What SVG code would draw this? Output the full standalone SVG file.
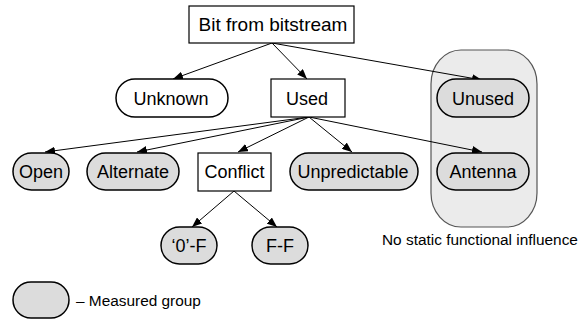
<svg xmlns="http://www.w3.org/2000/svg" width="580" height="320" viewBox="0 0 580 320">
<defs>
<style>
text{font-family:"Liberation Sans",Arial,sans-serif;fill:#000}
.lbl{font-size:18px;text-anchor:middle}
.big{font-size:19px}
.note{font-size:15.4px}
.box{fill:#fff;stroke:#000;stroke-width:1.2}
.pill{fill:#fff;stroke:#000;stroke-width:1.5}
.meas{fill:#dcdcdc;stroke:#000;stroke-width:1.5}
.grp{fill:#ebebeb;stroke:#555;stroke-width:1.2}
.edge{stroke:#000;stroke-width:1;fill:none;marker-end:url(#ah)}
</style>
<marker id="ah" viewBox="0 0 10 8" refX="10" refY="4" markerWidth="10" markerHeight="8" markerUnits="userSpaceOnUse" orient="auto">
<path d="M0,0 L10,4 L0,8 Z" fill="#000"/>
</marker>
</defs>
<g id="unused-group">
<rect class="grp" x="431" y="50" width="106" height="177" rx="30" ry="34"/>
<text class="note" x="382" y="245">No static functional influence</text>
</g>
<g id="connectors">
<line class="edge" x1="272" y1="43" x2="173" y2="79"/>
<line class="edge" x1="272" y1="43" x2="307" y2="79"/>
<line class="edge" x1="272" y1="43" x2="482" y2="80"/>
<line class="edge" x1="309" y1="117" x2="45" y2="152"/>
<line class="edge" x1="309" y1="117" x2="137" y2="152"/>
<line class="edge" x1="309" y1="117" x2="238" y2="152"/>
<line class="edge" x1="309" y1="117" x2="352" y2="152"/>
<line class="edge" x1="309" y1="117" x2="482" y2="152"/>
<line class="edge" x1="234" y1="191" x2="192" y2="227"/>
<line class="edge" x1="234" y1="191" x2="277" y2="227"/>
</g>
<g id="bit"><rect class="box" x="189" y="6" width="165" height="37"/><text class="lbl big" x="273" y="31">Bit from bitstream</text></g>
<g id="unknown"><rect class="pill" x="116" y="79" width="112" height="38" rx="19"/><text class="lbl" x="171" y="104.5">Unknown</text></g>
<g id="used"><rect class="box" x="271" y="79" width="74" height="38"/><text class="lbl" x="307" y="104.5">Used</text></g>
<g id="unused"><rect class="meas" x="437" y="79" width="92" height="38" rx="19"/><text class="lbl" x="483" y="104.5">Unused</text></g>
<g id="open"><rect class="meas" x="13" y="153" width="56" height="37" rx="18.5"/><text class="lbl" x="41" y="178">Open</text></g>
<g id="alternate"><rect class="meas" x="87" y="153" width="92" height="37" rx="18.5"/><text class="lbl" x="133" y="178">Alternate</text></g>
<g id="conflict"><rect class="box" x="198" y="153" width="73" height="38"/><text class="lbl" x="234.5" y="178">Conflict</text></g>
<g id="unpredictable"><rect class="meas" x="290" y="153" width="128" height="37" rx="18.5"/><text class="lbl" x="353" y="178">Unpredictable</text></g>
<g id="antenna"><rect class="meas" x="437" y="153" width="92" height="37" rx="18.5"/><text class="lbl" x="483" y="178">Antenna</text></g>
<g id="zero-f"><rect class="meas" x="161" y="227" width="56" height="37" rx="18.5"/><text class="lbl" x="189" y="252">‘0’-F</text></g>
<g id="f-f"><rect class="meas" x="252" y="227" width="56" height="37" rx="18.5"/><text class="lbl" x="280" y="252">F-F</text></g>
<g id="legend"><rect class="meas" x="13" y="282" width="56" height="36" rx="18"/><text class="note" x="76" y="306">– Measured group</text></g>
</svg>
